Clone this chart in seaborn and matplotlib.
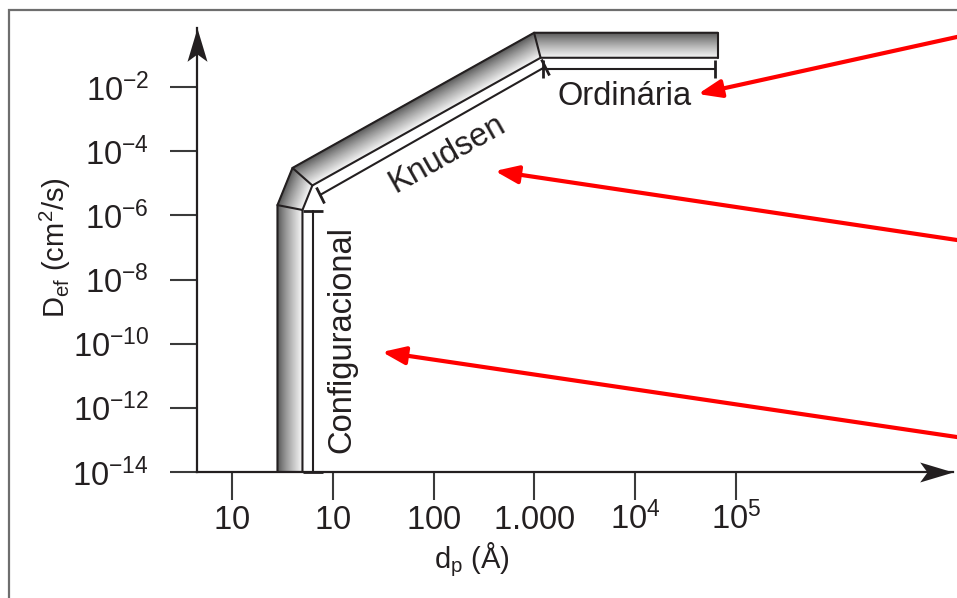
import numpy as np
import pandas as pd
import matplotlib
matplotlib.use("Agg")
import matplotlib.pyplot as plt
import seaborn as sns
from matplotlib import font_manager
from matplotlib.patches import Rectangle
from matplotlib.path import Path
from matplotlib.markers import MarkerStyle
from matplotlib.transforms import Affine2D

# ---------------- data ----------------
# centre line of the diffusion band (pore diameter in Angstrom, D_ef in cm2/s)
dp_path = [3.76, 3.76, 5.0, 1070.0, 66000.0]
D_path = [1e-14, 1.75e-6, 1.6e-5, 0.2, 0.2]

x_ticks = [1, 10, 100, 1000, 1e4, 1e5]
x_ticklabels = ["$10$", "$10$", "$100$", "$1.000$", "$10^4$", "$10^5$"]
y_ticks = [1e-2, 1e-4, 1e-6, 1e-8, 1e-10, 1e-12, 1e-14]
y_ticklabels = ["$10^{-2}$", "$10^{-4}$", "$10^{-6}$", "$10^{-8}$",
                "$10^{-10}$", "$10^{-12}$", "$10^{-14}$"]

regions = ["Configuracional", "Knudsen", "Ordinária"]
conf_x = [6.36, 6.36]
conf_y = [1.36e-6, 1e-14]
knud_x = [7.47, 1274.0]
knud_y = [4.3e-6, 0.042]
ord_x = [1217.0, 61900.0]
ord_y = [0.036, 0.036]
label_x = [12.3, 136.0, 7925.0]
label_y = [1.3e-10, 8.1e-5, 4.9e-3]
label_rot = [90, 29.5, 0]
arrow_tip_x = [30.8, 406.0, 42000.0]
arrow_tip_y = [5.5e-11, 2.41e-5, 6.05e-3]

xlabel = r"$\mathrm{d_p}$ (Å)"
ylabel = r"$\mathrm{D_{ef}}$ (cm$^2$/s)"

# ---------------- style ----------------
sns.set_theme(style="white")
fam = "Liberation Sans"
for cand in ["Liberation Sans Narrow", "Liberation Sans"]:
    try:
        font_manager.findfont(cand, fallback_to_default=False)
        fam = cand
        break
    except Exception:
        pass
narrow = fam.endswith("Narrow")
FS = 25 if narrow else 23.5
FS_LAB = 22 if narrow else 21
plt.rcParams["font.family"] = [fam, "DejaVu Sans"]
plt.rcParams["mathtext.fontset"] = "custom"
plt.rcParams["mathtext.rm"] = fam
plt.rcParams["mathtext.it"] = fam + ":italic"
plt.rcParams["mathtext.bf"] = fam + ":bold"
plt.rcParams["mathtext.default"] = "regular"

INK = "#231f20"
W, H = 957, 598
fig = plt.figure(figsize=(W / 100, H / 100), dpi=100)
fig.patch.set_facecolor("white")

# axes box: origin at (197,472) px, arrow tips at x=953 and y=28
ax = fig.add_axes([197 / W, (H - 472) / H, (953 - 197) / W, (472 - 28) / H])
ax.set_facecolor("none")
ax.set_xscale("log")
ax.set_yscale("log")
ax.set_xlim(10 ** -0.347, 10 ** 7.153)
ax.set_ylim(1e-14, 10 ** -0.161)

for s in ["top", "right"]:
    ax.spines[s].set_visible(False)
for s in ["left", "bottom"]:
    ax.spines[s].set_color(INK)
    ax.spines[s].set_linewidth(1.6)
    ax.spines[s].set_zorder(6)

ax.set_xticks(x_ticks)
ax.set_xticklabels(x_ticklabels)
ax.set_yticks(y_ticks)
ax.set_yticklabels(y_ticklabels)
ax.minorticks_off()
ax.tick_params(axis="x", which="major", direction="out", length=20, width=1.5,
               color="#3a3a3a", labelsize=FS, labelcolor=INK, pad=21, bottom=True)
ax.tick_params(axis="y", which="major", direction="out", length=19.5, width=1.5,
               color="#3a3a3a", labelsize=FS, labelcolor=INK, pad=15, left=True)
for t in ax.get_xticklabels():
    t.set_va("baseline")

ax.set_xlabel(xlabel, fontsize=FS_LAB, color=INK)
ax.set_ylabel(ylabel, fontsize=FS_LAB, color=INK)
ax.xaxis.set_label_coords((471.5 - 197) / 756, (472 - 560) / 444)
ax.xaxis.label.set_va("center")
ax.yaxis.set_label_coords((55 - 197) / 756, (472 - 248) / 444)
ax.yaxis.label.set_va("center")

# axis arrowheads (stealth shape)
head_x = Path([(0, 0), (-1, 0.3), (-0.78, 0), (-1, -0.3), (0, 0)],
              [Path.MOVETO, Path.LINETO, Path.LINETO, Path.LINETO, Path.CLOSEPOLY])
head_y = Path([(0, 0), (-0.3, -1), (0, -0.78), (0.3, -1), (0, 0)],
              [Path.MOVETO, Path.LINETO, Path.LINETO, Path.LINETO, Path.CLOSEPOLY])
ax.plot([1], [0], marker=head_x, ms=48, color=INK, mew=0,
        transform=ax.transAxes, clip_on=False, zorder=7)
ax.plot([0], [1], marker=head_y, ms=48, color=INK, mew=0,
        transform=ax.transAxes, clip_on=False, zorder=7)

# ---------------- shaded band ----------------
band_w = 25.0  # pixels
T = ax.transData
P = T.transform(np.column_stack([dp_path, D_path]))


def offset_line(P, o):
    d = np.diff(P, axis=0)
    d = d / np.linalg.norm(d, axis=1)[:, None]
    n = np.column_stack([-d[:, 1], d[:, 0]])
    out = np.empty_like(P)
    out[0] = P[0] + o * n[0]
    out[-1] = P[-1] + o * n[-1]
    for i in range(1, len(P) - 1):
        m = n[i - 1] + n[i]
        m = m / np.linalg.norm(m)
        out[i] = P[i] + o * m / np.dot(m, n[i - 1])
    return out


inv = T.inverted()
N = 36
for k in range(N):
    o0 = band_w / 2 - k * band_w / N
    o1 = band_w / 2 - (k + 1) * band_w / N
    poly = np.vstack([offset_line(P, o0), offset_line(P, o1)[::-1]])
    pd_ = inv.transform(poly)
    t = (k + 0.5) / N
    g = 0.30 + 0.66 * (t ** 0.8)
    ax.fill(pd_[:, 0], pd_[:, 1], color=(g, g, g), lw=0.6, ec=(g, g, g), zorder=3)

outer = inv.transform(offset_line(P, band_w / 2))
inner = inv.transform(offset_line(P, -band_w / 2))
edges = []
edges.append(pd.DataFrame({"x": outer[:, 0], "y": outer[:, 1], "part": "outer"}))
edges.append(pd.DataFrame({"x": inner[:, 0], "y": inner[:, 1], "part": "inner"}))
for i in range(len(P)):
    edges.append(pd.DataFrame({"x": [outer[i, 0], inner[i, 0]],
                               "y": [outer[i, 1], inner[i, 1]], "part": f"j{i}"}))
edf = pd.concat(edges, ignore_index=True)
sns.lineplot(data=edf, x="x", y="y", units="part", estimator=None, sort=False,
             color=INK, lw=1.5, ax=ax, zorder=4, legend=False)

# ---------------- brackets ----------------
br = pd.concat([
    pd.DataFrame({"x": conf_x, "y": conf_y, "r": regions[0]}),
    pd.DataFrame({"x": knud_x, "y": knud_y, "r": regions[1]}),
    pd.DataFrame({"x": ord_x, "y": ord_y, "r": regions[2]}),
], ignore_index=True)
sns.lineplot(data=br, x="x", y="y", units="r", estimator=None, sort=False,
             color=INK, lw=1.5, ax=ax, zorder=4, legend=False)
ax.plot(conf_x, conf_y, ls="none", marker="_", ms=14, mew=2.0, color=INK, zorder=5,
        clip_on=False)
ax.plot(ord_x, ord_y, ls="none", marker="|", ms=13, mew=2.0, color=INK, zorder=5)
kn = T.transform(np.column_stack([knud_x, knud_y]))
ang = np.degrees(np.arctan2(kn[1, 1] - kn[0, 1], kn[1, 0] - kn[0, 0]))
ax.plot(knud_x, knud_y, ls="none",
        marker=MarkerStyle("|", transform=Affine2D().rotate_deg(ang)),
        ms=13, mew=2.0, color=INK, zorder=5)

# ---------------- labels ----------------
for name, lx, ly, rot in zip(regions, label_x, label_y, label_rot):
    ax.text(lx, ly, name, rotation=rot, rotation_mode="anchor", ha="center",
            va="center", fontsize=FS, color=INK, zorder=6)

# ---------------- red arrows ----------------
tails_px = [(975, H - 439.7), (975, H - 242.7), (975, H - 33)]
for tx, ty, (fx, fy) in zip(arrow_tip_x, arrow_tip_y, tails_px):
    ax.annotate("", xy=(tx, ty), xycoords="data", xytext=(fx, fy),
                textcoords="figure pixels", annotation_clip=False,
                arrowprops=dict(arrowstyle="-|>,head_length=0.7,head_width=0.27",
                                color="#ff0000", lw=3.0, mutation_scale=20,
                                shrinkA=0, shrinkB=0), zorder=8)

# ---------------- outer frame ----------------
fig.add_artist(Rectangle((9 / W, -0.2), 2.0, 1 - 10 / H + 0.2, transform=fig.transFigure,
                         fill=False, edgecolor="#6e6e6e", lw=1.6, zorder=0))

fig.savefig("out.png", dpi=100)
